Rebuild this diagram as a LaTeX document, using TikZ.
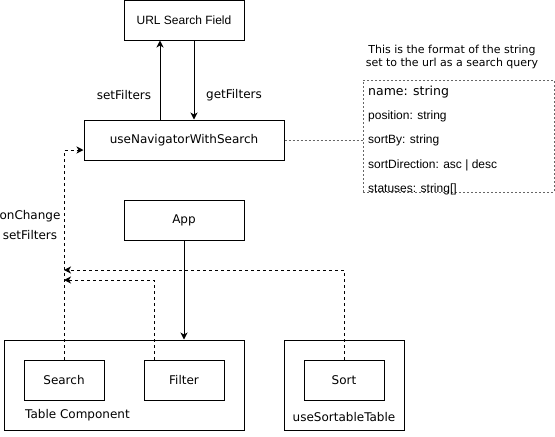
\documentclass[tikz,border=0pt]{standalone}
\usepackage{fontspec}
\setmainfont{DejaVu Sans}
\newfontfamily\helv{Liberation Sans}
\usetikzlibrary{arrows.meta}
\begin{document}
\begin{tikzpicture}[x=1pt,y=-1pt,
  box/.style={draw,line width=1pt,minimum height=40pt,inner sep=0pt,font=\fontsize{12}{14}\selectfont},
  lbl/.style={font=\fontsize{12}{14}\selectfont,inner sep=0pt},
  arr/.style={line width=1pt,-{Stealth[length=7pt,width=7pt,inset=2pt]}},
  darr/.style={line width=1pt,dash pattern=on 3pt off 3pt,-{Stealth[length=7pt,width=7pt,inset=2pt]}},
  item/.style={anchor=west,inner sep=0pt,font=\helv\fontsize{12}{14}\selectfont}]
\useasboundingbox (0,0) rectangle (555,437);
\node[box,minimum width=120pt,font=\helv\fontsize{12}{14}\selectfont] (url) at (184,20) {URL Search Field};
\node[box,minimum width=200pt] (nav) at (184,140) {useNavigatorWithSearch};
\node[box,minimum width=120pt] (app) at (184,220) {App};
\node[box,minimum width=240pt,minimum height=90pt] (table) at (124,385) {};
\node[box,minimum width=80pt] (search) at (64,380) {Search};
\node[box,minimum width=80pt] (filter) at (184,380) {Filter};
\node[box,minimum width=120pt,minimum height=90pt] (sortable) at (344,385) {};
\node[box,minimum width=80pt] (sort) at (344,380) {Sort};
\node[draw=gray!80!black,line width=1pt,dash pattern=on 2pt off 2pt,minimum width=191pt,minimum height=112pt,inner sep=0pt] (note) at (458.5,136) {};
\node[lbl,anchor=west] (tc) at (25,415) {Table Component};
\node[lbl] (st) at (344,417) {useSortableTable};
\node[lbl] (sf) at (124,95) {setFilters};
\node[lbl] (gf) at (234,95) {getFilters};
\node[lbl,align=center,font=\fontsize{12}{20}\selectfont] (oc) at (30,225) {onChange\\setFilters};
\node[inner sep=0pt,align=center,font=\fontsize{11}{12.5}\selectfont] (hdr) at (452,57) {This is the format of the string\\set to the url as a search query};
\node[item,font=\fontsize{12.5}{14}\selectfont] (i1) at (368,92) {name: string};
\node[item] (i2) at (368,116) {position: string};
\node[item] (i3) at (368,140) {sortBy: string};
\node[item] (i4) at (368,165) {sortDirection: asc | desc};
\node[item] (i5) at (368,189) {statuses: string[]};
\coordinate (t1) at (64,280);
\coordinate (t2) at (64,270);
\draw[arr] ([xshift=-24pt]nav.north) -- ([xshift=-24pt]url.south);
\draw[arr] ([xshift=10pt]url.south) -- ([xshift=10pt]nav.north);
\draw[arr] (app.south) -- (app.south |- table.north);
\draw[darr] (search.north) |- ([yshift=-10pt]nav.west);
\draw[darr] ([xshift=-30pt]filter.north) |- (t1);
\draw[darr] (sort.north) |- (t2);
\draw[gray!80!black,line width=1pt,dash pattern=on 2pt off 2pt] (nav.east) -- (nav.east -| note.west);
\end{tikzpicture}
\end{document}
